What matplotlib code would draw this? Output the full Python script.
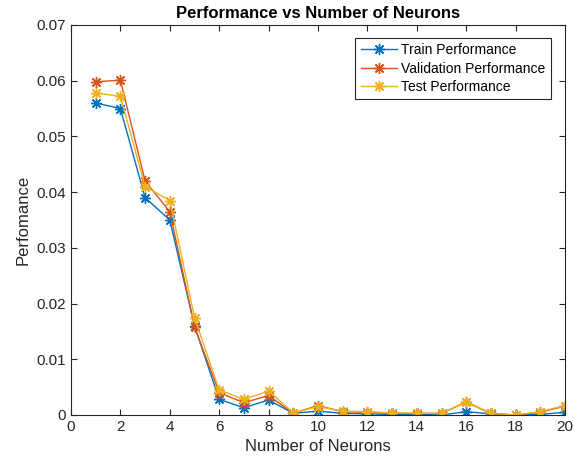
import matplotlib
matplotlib.use('Agg')
import matplotlib.pyplot as plt

plt.rcParams['font.family'] = ['Liberation Sans', 'DejaVu Sans']

neurons = list(range(1, 21))
train_perf = [0.0560, 0.0550, 0.0390, 0.0350, 0.0160, 0.0028, 0.0013, 0.0027, 0.0003, 0.0007,
              0.0003, 0.0002, 0.0001, 0.0001, 0.0000, 0.0006, 0.0002, 0.0000, 0.0001, 0.0005]
val_perf = [0.0598, 0.0601, 0.0420, 0.0365, 0.0158, 0.0040, 0.0022, 0.0035, 0.0003, 0.0017,
            0.0006, 0.0005, 0.0003, 0.0003, 0.0003, 0.0023, 0.0003, 0.0000, 0.0005, 0.0016]
test_perf = [0.0578, 0.0572, 0.0410, 0.0385, 0.0175, 0.0045, 0.0028, 0.0043, 0.0004, 0.0015,
             0.0007, 0.0006, 0.0004, 0.0003, 0.0003, 0.0024, 0.0003, 0.0000, 0.0006, 0.0017]

# MATLAB-style asterisk marker
star = (8, 2, 0)

fig = plt.figure(figsize=(5.74, 4.62), dpi=100)
ax = fig.add_axes([71 / 574, 1 - 415 / 462, 494 / 574, 390 / 462])

ax.plot(neurons, train_perf, '-', marker=star, color='#0072BD', lw=1, ms=8, mew=1, label='Train Performance')
ax.plot(neurons, val_perf, '-', marker=star, color='#D95319', lw=1, ms=8, mew=1, label='Validation Performance')
ax.plot(neurons, test_perf, '-', marker=star, color='#EDB120', lw=1, ms=8, mew=1, label='Test Performance')

ax.set_xlim(0, 20)
ax.set_ylim(0, 0.07)
ax.set_xticks(range(0, 21, 2))
ax.set_yticks([0, 0.01, 0.02, 0.03, 0.04, 0.05, 0.06, 0.07])
ax.set_yticklabels(['0', '0.01', '0.02', '0.03', '0.04', '0.05', '0.06', '0.07'])
ax.tick_params(direction='in', length=4, labelsize=11, top=True, right=True, colors='#262626')
for s in ax.spines.values():
    s.set_color('#262626')
    s.set_linewidth(0.8)

ax.set_title('Performance vs Number of Neurons', fontsize=12, fontweight='bold', pad=5)
ax.set_xlabel('Number of Neurons', fontsize=12, color='#262626')
ax.set_ylabel('Perfomance', fontsize=12, color='#262626')

leg = ax.legend(loc='upper right', bbox_to_anchor=(0.985, 0.985), fontsize=10, fancybox=False,
                edgecolor='#262626', framealpha=1, borderpad=0.4, labelspacing=0.3,
                handlelength=2.6, handletextpad=0.3)
leg.get_frame().set_linewidth(0.8)

fig.savefig('out.png', dpi=100)
